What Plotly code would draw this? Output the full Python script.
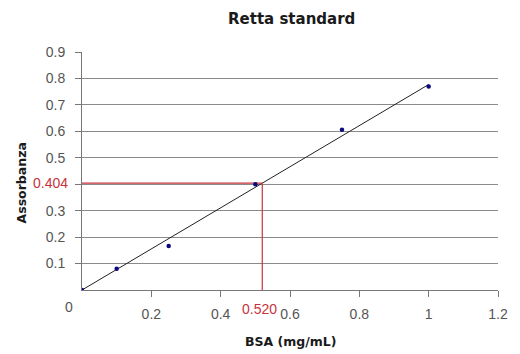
import plotly.graph_objects as go

# Data
bsa = [0.0, 0.1, 0.25, 0.5, 0.75, 1.0]
absorbance = [0.0, 0.08, 0.166, 0.40, 0.606, 0.77]
fit_x = [0.0, 1.0]
slope = 0.777
fit_y = [slope * v for v in fit_x]
sample_x = 0.520
sample_y = 0.404
x_ticks = [0.2, 0.4, 0.6, 0.8, 1.0, 1.2]
x_tick_text = ["0.2", "0.4", "0.6", "0.8", "1", "1.2"]
y_ticks = [0.1, 0.2, 0.3, 0.4, 0.5, 0.6, 0.7, 0.8, 0.9]
y_tick_text = ["0.1", "0.2", "0.3", "", "0.5", "0.6", "0.7", "0.8", "0.9"]
grid_vals = [0.1, 0.2, 0.3, 0.4, 0.5, 0.6, 0.7, 0.8]

RED = "#c8323c"
GRAY = "#555555"
FONT = "Liberation Sans, Arial, sans-serif"
BOLD_FONT = "DejaVu Sans, Verdana, sans-serif"

W, H = 520, 354
L, R, T, B = 82, 12, 52, 64
pw, ph = W - L - R, H - T - B


def pxx(px):
    return (px - L) / pw


def pxy(py):
    return (H - B - py) / ph


fig = go.Figure()

# gridline carrier axis
fig.add_trace(go.Scatter(x=[0], y=[0], yaxis="y2", mode="markers",
                         marker=dict(opacity=0), hoverinfo="skip", showlegend=False))
# trend line
fig.add_trace(go.Scatter(x=fit_x, y=fit_y, mode="lines",
                         line=dict(color="#222222", width=1), showlegend=False))
# reference lines
fig.add_trace(go.Scatter(x=[0, sample_x], y=[sample_y, sample_y], mode="lines",
                         line=dict(color=RED, width=1.2), showlegend=False))
fig.add_trace(go.Scatter(x=[sample_x, sample_x], y=[0, sample_y], mode="lines",
                         line=dict(color=RED, width=1.2), showlegend=False))
# points
fig.add_trace(go.Scatter(x=bsa, y=absorbance, mode="markers",
                         marker=dict(color="#0a0a80", size=4.5), showlegend=False))

ann_common = dict(showarrow=False, xanchor="center", yanchor="middle")

fig.update_layout(
    width=W, height=H,
    margin=dict(l=L, r=R, t=T, b=B),
    paper_bgcolor="white", plot_bgcolor="white",
    font=dict(family=FONT, size=14, color=GRAY),
    showlegend=False,
    xaxis=dict(range=[0, 1.2], tickvals=x_ticks, ticktext=x_tick_text,
               showgrid=False, zeroline=False, showline=True, linecolor="#777777",
               linewidth=1, ticks="outside", ticklen=6, tickcolor="#777777",
               ticklabelstandoff=5, tickfont=dict(size=14, color=GRAY)),
    yaxis=dict(range=[0, 0.9], tickvals=y_ticks, ticktext=y_tick_text,
               showgrid=False, zeroline=False,
               showline=True, linecolor="#777777", linewidth=1, ticks="outside",
               ticklen=6, tickcolor="#777777", ticklabelstandoff=7,
               tickfont=dict(size=14, color=GRAY)),
    yaxis2=dict(overlaying="y", matches="y", tickvals=grid_vals, showgrid=True,
                gridcolor="#8a8a8a", gridwidth=1.3, showticklabels=False,
                ticks="", zeroline=False, showline=False),
    annotations=[
        dict(text="<b>Retta standard</b>", xref="paper", yref="paper",
             x=pxx(296.5), y=pxy(19), font=dict(family=BOLD_FONT, size=15, color="#1a1a1a"),
             **ann_common),
        dict(text="<b>BSA (mg/mL)</b>", xref="paper", yref="paper",
             x=pxx(296.5), y=pxy(341), font=dict(family=BOLD_FONT, size=12.5, color="#1a1a1a"),
             **ann_common),
        dict(text="<b>Assorbanza</b>", xref="paper", yref="paper", textangle=-90,
             x=pxx(20), y=pxy(183), font=dict(family=BOLD_FONT, size=12.5, color="#1a1a1a"),
             **ann_common),
        dict(text="0", xref="paper", yref="paper",
             x=pxx(69), y=pxy(306.5), font=dict(size=14, color=GRAY), **ann_common),
        dict(text=f"{sample_y:.3f}", xref="paper", yref="y",
             x=pxx(50), y=sample_y, font=dict(size=14, color=RED), **ann_common),
        dict(text=f"{sample_x:.3f}", xref="x", yref="paper", xshift=-3,
             x=sample_x, y=pxy(309), font=dict(size=14, color=RED), **ann_common),
    ],
)

fig.write_html("out.html", config={"displayModeBar": False},
               post_script="document.body.style.margin='0';")
